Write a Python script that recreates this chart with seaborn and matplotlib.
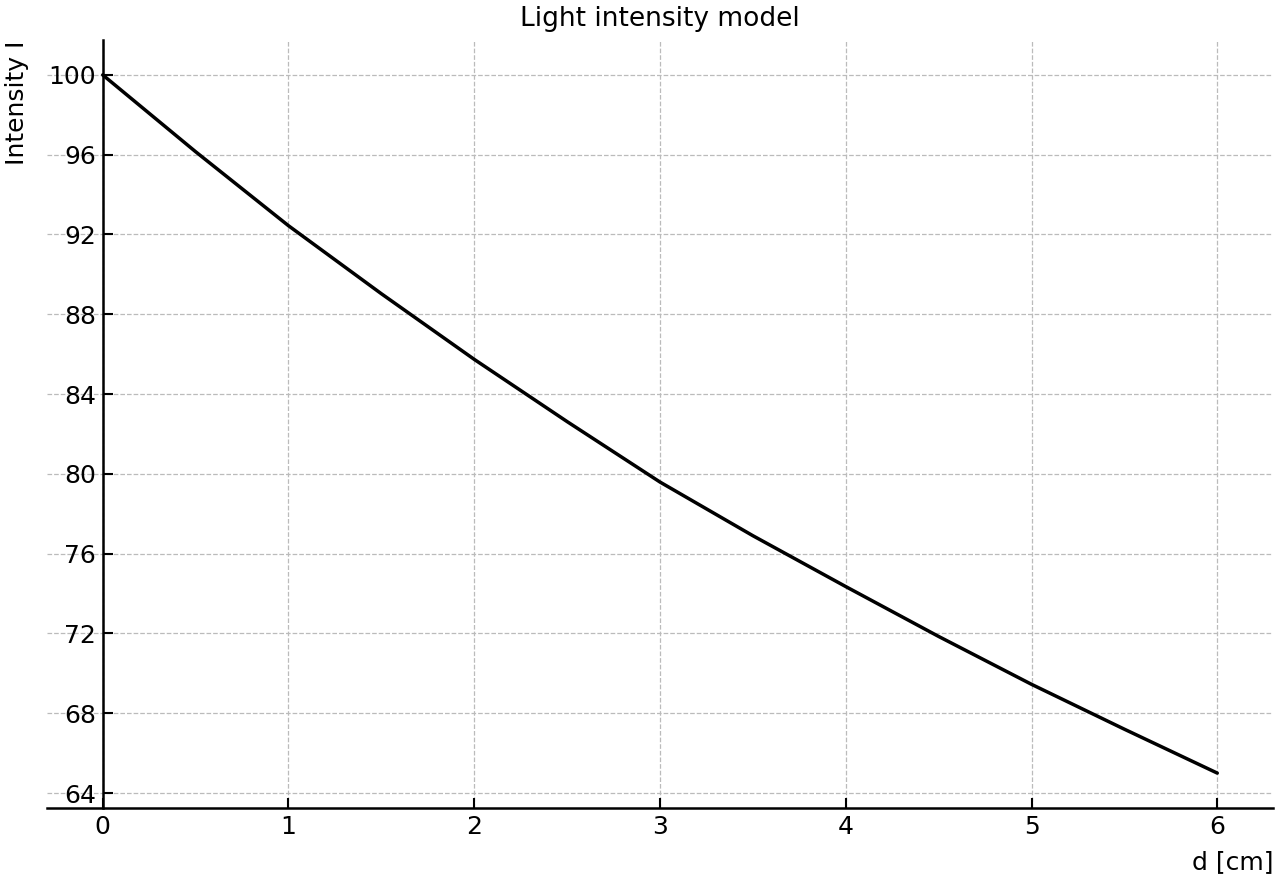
import matplotlib
matplotlib.use("Agg")
import matplotlib.pyplot as plt
import seaborn as sns
import pandas as pd

# Data
depth_cm = [0.0, 0.5, 1.0, 1.5, 2.0, 2.5, 3.0, 3.5, 4.0, 4.5, 5.0, 5.5, 6.0]
intensity = [100.0, 96.15, 92.44, 89.03, 85.74, 82.62, 79.59, 76.9, 74.35, 71.85, 69.45, 67.2, 65.0]
y_ticks = [64, 68, 72, 76, 80, 84, 88, 92, 96, 100]
x_ticks = [0, 1, 2, 3, 4, 5, 6]

sns.set_style("white")
plt.rcParams['font.family'] = ['DejaVu Sans']
plt.rcParams['text.color'] = 'black'
plt.rcParams['axes.labelcolor'] = 'black'

df = pd.DataFrame({"d": depth_cm, "I": intensity})

fig = plt.figure(figsize=(12.8, 8.8), dpi=100)
ax = fig.add_axes([47/1280, 1 - 808/880, (1273-47)/1280, (808-40)/880])

sns.lineplot(data=df, x="d", y="I", ax=ax, color="black", linewidth=2.5)

ax.set_xlim(-0.3, 6.3)
ax.set_ylim(63.25, 101.75)
ax.set_xticks(x_ticks)
ax.set_yticks(y_ticks)

ax.grid(True, color="#bbbbbb", linestyle="--", linewidth=0.9)
ax.set_axisbelow(True)

ax.spines["right"].set_visible(False)
ax.spines["top"].set_visible(False)
ax.spines["left"].set_position(("data", 0))
for s in ("left", "bottom"):
    ax.spines[s].set_linewidth(1.8)
    ax.spines[s].set_color("black")

ax.tick_params(axis="both", direction="in", length=7, width=1.5, labelsize=18,
               colors="black", bottom=True, left=True)
ax.tick_params(axis="x", pad=5)
ax.tick_params(axis="y", pad=5)

ax.set_xlabel("d [cm]", fontsize=18, loc="right", color="black", labelpad=8)
ax.set_ylabel("Intensity I", fontsize=18, loc="top", color="black", labelpad=14)
ax.set_title("Light intensity model", fontsize=19, pad=10, color="black")

fig.savefig("out.png", dpi=100)
